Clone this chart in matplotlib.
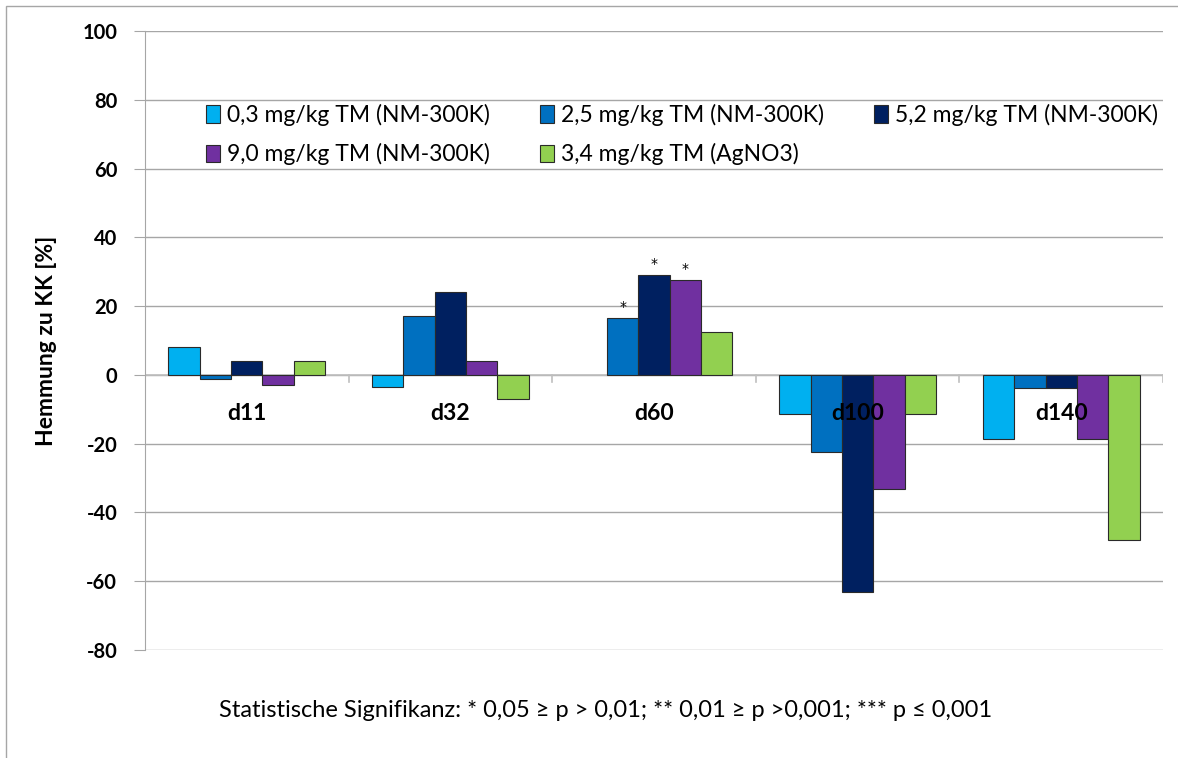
import numpy as np
import matplotlib
matplotlib.use('agg')
import matplotlib.pyplot as plt
from matplotlib.patches import Rectangle

plt.rcParams['font.family'] = ['Lato', 'DejaVu Sans']
plt.rcParams['axes.unicode_minus'] = False

# data
days = ["d11", "d32", "d60", "d100", "d140"]
series = ["0,3 mg/kg TM (NM-300K)", "2,5 mg/kg TM (NM-300K)", "5,2 mg/kg TM (NM-300K)",
          "9,0 mg/kg TM (NM-300K)", "3,4 mg/kg TM (AgNO3)"]
low_03 = [8.1, -3.5, 0.0, -11.3, -18.6]
mid_25 = [-1.3, 17.0, 16.5, -22.3, -3.8]
mid_52 = [4.0, 24.0, 29.0, -63.0, -3.8]
high_90 = [-3.0, 4.0, 27.5, -33.3, -18.6]
agno3 = [4.0, -7.0, 12.5, -11.3, -48.0]
# significance marks (series index, day index)
sig_marks = [(1, 2), (2, 2), (3, 2)]
colors = ['#00B0F0', '#0070C0', '#002060', '#7030A0', '#92D050']

values = [low_03, mid_25, mid_52, high_90, agno3]

fig = plt.figure(figsize=(11.78, 7.58), dpi=100)
ax = fig.add_axes([0.1231, 0.1425, 0.8642, 0.8166])

x = np.arange(len(days))
width = 0.154
handles = []
for i, (vals, col, lab) in enumerate(zip(values, colors, series)):
    offs = (i - 2) * width
    lws = [0.8 if v != 0 else 0 for v in vals]
    h = ax.bar(x + offs, vals, width, color=col, edgecolor='#2a2a2a', linewidth=lws,
               label=lab, zorder=3)
    handles.append(h)

for si, di in sig_marks:
    v = values[si][di]
    ax.annotate('*', (x[di] + (si - 2) * width, v), xytext=(0, 3),
                textcoords='offset points', ha='center', va='bottom', fontsize=10,
                family='DejaVu Sans')

ax.set_xlim(-0.5, len(days) - 0.5)
ax.set_ylim(-80, 100)
ax.set_yticks(np.arange(-80, 101, 20))
ax.yaxis.grid(True, color='#a6a6a6', linewidth=1.0, zorder=0)
ax.set_axisbelow(True)
for lab in ax.get_yticklabels():
    lab.set_fontweight('bold')
ax.tick_params(axis='y', labelsize=14.5, length=8, color='#a6a6a6', pad=12)
ax.set_xticks([])
for s in ['top', 'right', 'bottom']:
    ax.spines[s].set_visible(False)
ax.spines['left'].set_color('#a6a6a6')

# zero line with category boundary ticks
ax.axhline(0, color='#bfbfbf', linewidth=1.2, zorder=2)
for b in np.arange(0.5, len(days) - 0.4, 1.0):
    ax.plot([b, b], [0, -2.2], color='#bfbfbf', linewidth=1.2, zorder=2)

for xi, d in zip(x, days):
    ax.annotate(d, (xi, 0), xytext=(0, -28), textcoords='offset points',
                ha='center', va='center', fontsize=16.5, fontweight='bold', zorder=5)

ax.set_ylabel("Hemmung zu KK [%]", fontsize=16.5, fontweight='bold', labelpad=18)

# row-major order for a 3-column legend
order = [0, 3, 1, 4, 2]
ax.legend([handles[k] for k in order], [series[k] for k in order],
          ncol=3, loc='upper left', bbox_to_anchor=(0.051, 0.897), frameon=False,
          fontsize=16.5, handlelength=0.6, handleheight=0.8, handletextpad=0.3,
          columnspacing=2.2, labelspacing=0.75, borderaxespad=0)

fig.text(0.514, 0.063, "Statistische Signifikanz: * 0,05 \u2265 p > 0,01; ** 0,01 \u2265 p >0,001; *** p \u2264 0,001",
         ha='center', va='center', fontsize=17)

fig.patches.append(Rectangle((6 / 1178, -0.1), 1.2, 1.1 - 6 / 758,
                             transform=fig.transFigure, fill=False,
                             edgecolor='#a6a6a6', linewidth=1.0))

fig.savefig('out.png', dpi=100)
